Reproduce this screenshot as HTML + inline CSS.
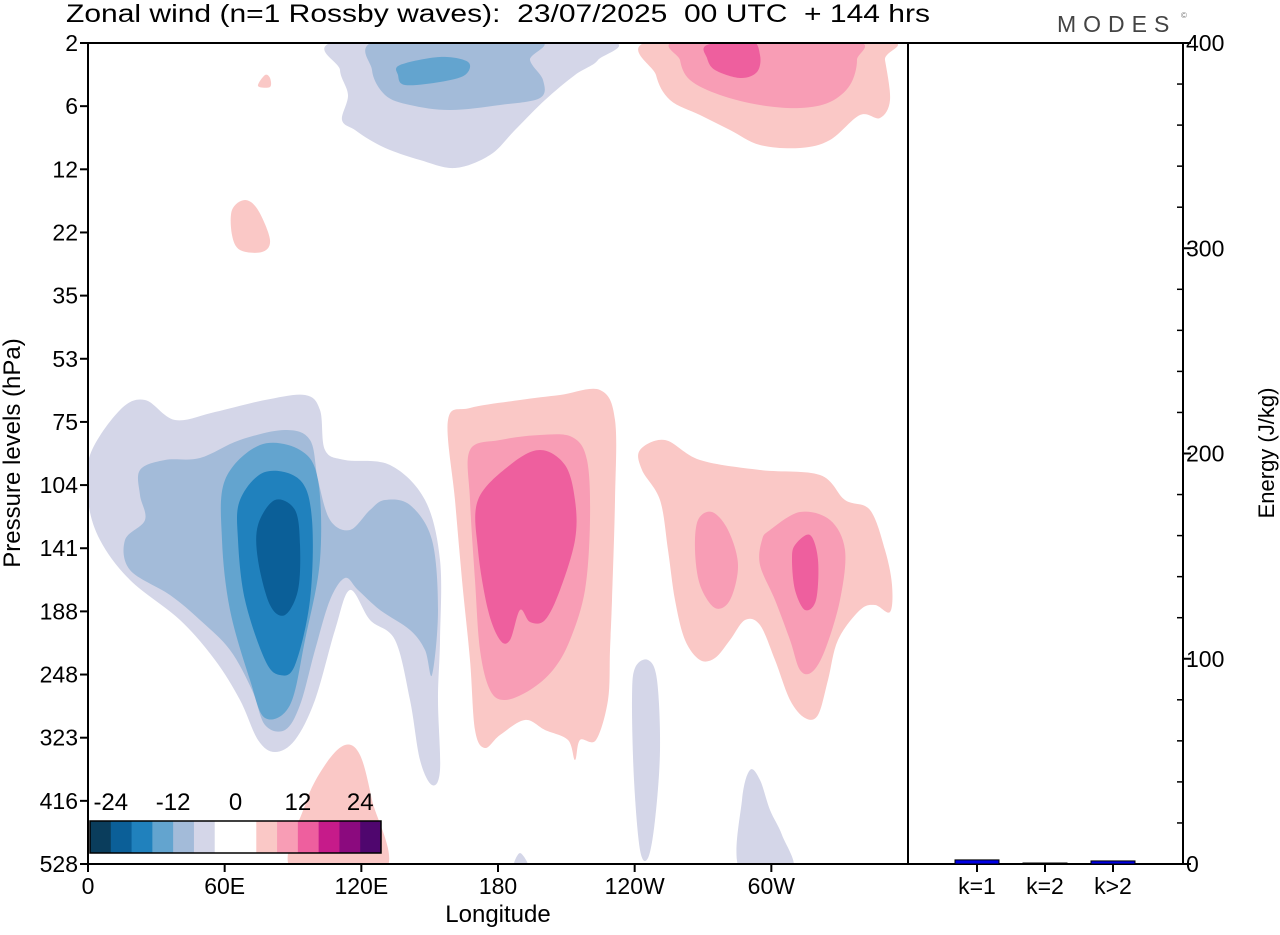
<!DOCTYPE html>
<html><head><meta charset="utf-8"><style>
body{margin:0;background:#fff;}
svg text{font-family:"Liberation Sans",sans-serif;white-space:pre;}
</style></head><body>
<svg id="chart" width="1280" height="930">
<g id="contours"></g>
<g id="frame"></g>
<g id="bars"></g>
<text x="66" y="22" font-size="25" textLength="864" lengthAdjust="spacingAndGlyphs" xml:space="preserve">Zonal wind (n=1 Rossby waves):  23/07/2025  00 UTC  + 144 hrs</text>
<text x="1057" y="32" font-size="23" fill="#444" letter-spacing="7">MODES</text>
<text x="1181" y="18" font-size="8" fill="#777">©</text>
<text x="498" y="922" font-size="24" text-anchor="middle">Longitude</text>
<text transform="translate(20,453) rotate(-90)" font-size="24" text-anchor="middle">Pressure levels (hPa)</text>
<text transform="translate(1274,453) rotate(-90)" font-size="22" text-anchor="middle">Energy (J/kg)</text>
<g id="cbar"></g>
</svg>
<script>
const NS="http://www.w3.org/2000/svg";
const pLevels=["2","6","12","22","35","53","75","104","141","188","248","323","416","528"];
const lonLabels=["0","60E","120E","180","120W","60W"];
const barCats=["k=1","k=2","k>2"];
const barVals=[2,0.3,1.5];
const eTicks=[0,100,200,300,400];
const cbarLabels=["-24","-12","0","12","24"];
const cbarColors=["#0a3d5c","#0b5f98","#2081bd","#63a4cf","#a3bbd9","#d4d6e8","#ffffff","#ffffff","#fac8c6","#f89db5","#ee5f9e","#c61b8a","#8b0a7e","#4f066e"];
const X0=88,X1=908,Y0=43,Y1=864;
const lonX=l=>X0+l*(X1-X0)/360;
const levY=i=>Y0+i*(Y1-Y0)/(pLevels.length-1);
const eY=v=>Y1-v*(Y1-Y0)/400;
function mk(tag,attrs,parent){const e=document.createElementNS(NS,tag);for(const k in attrs)e.setAttribute(k,attrs[k]);parent.appendChild(e);return e;}
function smooth(p){let d="M"+p[0][0]+","+p[0][1];const n=p.length;
for(let i=0;i<n;i++){const a=p[(i-1+n)%n],b=p[i],c=p[(i+1)%n],e=p[(i+2)%n];
d+=`C${b[0]+(c[0]-a[0])/6},${b[1]+(c[1]-a[1])/6} ${c[0]-(e[0]-b[0])/6},${c[1]-(e[1]-b[1])/6} ${c[0]},${c[1]}`;}return d+"Z";}
const shapes=[
["#d4d6e8",[[345,40],[600,40],[598,60],[575,75],[545,100],[515,130],[490,155],[455,168],[420,160],[390,150],[370,140],[355,130],[342,120],[348,95],[340,70]]],
["#a3bbd9",[[380,40],[535,40],[530,60],[543,80],[540,98],[500,105],[450,110],[410,105],[385,95],[372,70]]],
["#63a4cf",[[400,65],[440,57],[468,62],[465,75],[440,82],[405,85],[398,75]]],
["#fac8c6",[[655,40],[880,40],[885,60],[890,100],[880,118],[860,115],[830,140],[800,148],[760,145],[730,130],[700,115],[670,100],[656,75]]],
["#f89db5",[[682,40],[850,40],[857,60],[850,85],[830,102],[800,108],[760,105],[720,95],[690,80],[680,60]]],
["#ee5f9e",[[707,45],[750,40],[760,55],[757,72],[740,78],[715,70],[707,58]]],
["#fac8c6",[[258,86],[265,75],[270,78],[270,87]]],
["#fac8c6",[[232,210],[245,200],[258,210],[270,240],[262,252],[240,250],[232,235]]],
["#d4d6e8",[[90,455],[120,410],[145,400],[175,420],[215,412],[265,400],[305,395],[320,410],[325,450],[345,460],[390,465],[425,500],[440,560],[440,640],[438,700],[440,770],[432,785],[420,760],[410,700],[395,640],[370,620],[350,590],[335,630],[315,700],[295,740],[275,752],[258,740],[240,700],[215,660],[180,620],[130,580],[100,540],[88,500]]],
["#a3bbd9",[[140,470],[165,460],[200,458],[240,440],[285,430],[310,440],[318,480],[330,520],[350,530],[370,510],[385,500],[410,505],[432,540],[438,610],[432,675],[425,650],[410,630],[380,610],[358,590],[345,578],[330,600],[315,650],[300,705],[285,730],[265,725],[252,690],[230,650],[200,620],[170,595],[130,570],[125,540],[145,520],[140,495]]],
["#63a4cf",[[225,480],[260,445],[300,450],[318,480],[320,560],[305,640],[290,705],[265,718],[250,680],[230,610],[222,540]]],
["#2081bd",[[240,500],[265,472],[300,480],[312,520],[310,600],[295,665],[280,675],[265,660],[245,600],[238,540]]],
["#0b5f98",[[258,525],[275,500],[295,510],[300,545],[298,590],[285,615],[270,605],[258,560]]],
["#fac8c6",[[448,420],[470,408],[520,400],[560,395],[600,390],[615,420],[615,500],[612,600],[610,650],[608,700],[596,740],[580,740],[575,760],[568,740],[545,730],[525,720],[500,735],[485,748],[475,730],[470,660],[462,580],[455,500]]],
["#f89db5",[[470,450],[500,440],[540,435],[572,437],[587,460],[590,520],[585,590],[570,640],[553,670],[530,690],[505,700],[490,690],[480,650],[475,580],[470,500]]],
["#ee5f9e",[[478,500],[510,465],[540,450],[565,465],[575,500],[575,540],[560,590],[545,620],[530,622],[520,610],[510,640],[500,640],[488,610],[478,550]]],
["#fac8c6",[[640,450],[665,440],[700,460],[760,470],[820,475],[845,500],[870,510],[885,550],[892,585],[890,612],[875,605],[860,610],[838,640],[828,680],[818,715],[805,718],[790,700],[775,660],[760,625],[745,620],[730,640],[715,658],[700,660],[685,640],[675,600],[668,550],[660,500],[642,470]]],
["#f89db5",[[698,520],[712,512],[728,530],[738,565],[730,600],[715,608],[700,585],[695,550]]],
["#f89db5",[[770,530],[800,512],[830,520],[845,550],[840,600],[825,650],[812,672],[800,670],[790,640],[775,600],[760,565],[762,540]]],
["#ee5f9e",[[795,545],[810,535],[818,560],[816,600],[805,610],[795,590],[792,560]]],
["#d4d6e8",[[635,668],[648,660],[657,680],[660,750],[655,820],[648,858],[640,850],[634,780],[632,700]]],
["#d4d6e8",[[740,870],[742,800],[750,770],[760,780],[770,810],[782,835],[792,870]]],
["#d4d6e8",[[514,866],[520,853],[528,866]]],
["#fac8c6",[[292,870],[305,805],[325,765],[345,745],[360,755],[372,800],[385,870]]]
];
const cg=document.getElementById("contours");
const clip=mk("clipPath",{id:"pc"},mk("defs",{},cg));mk("rect",{x:X0,y:Y0,width:X1-X0,height:Y1-Y0},clip);
const sg=mk("g",{"clip-path":"url(#pc)"},cg);
shapes.forEach(s=>{const p=mk("path",{d:smooth(s[1]),fill:s[0]},sg);

});
const fr=document.getElementById("frame");
mk("rect",{x:X0,y:Y0,width:1183-X0,height:Y1-Y0,fill:"none",stroke:"#000","stroke-width":2},fr);
mk("line",{x1:X1,y1:Y0,x2:X1,y2:Y1,stroke:"#000","stroke-width":2},fr);
pLevels.forEach((l,i)=>{const y=levY(i);mk("line",{x1:X0-8,y1:y,x2:X0,y2:y,stroke:"#000","stroke-width":2},fr);
const t=mk("text",{x:X0-10,y:y+8,"font-size":23,"text-anchor":"end"},fr);t.textContent=l;

});
lonLabels.forEach((l,i)=>{const x=lonX(i*60);mk("line",{x1:x,y1:Y1,x2:x,y2:Y1+8,stroke:"#000","stroke-width":2},fr);
const t=mk("text",{x:x,y:Y1+30,"font-size":23,"text-anchor":"middle"},fr);t.textContent=l;

});
for(let v=0;v<=400;v+=20){const y=eY(v);
if(v%100===0)mk("line",{x1:1183,y1:y,x2:1191,y2:y,stroke:"#000","stroke-width":2},fr);
else mk("line",{x1:1177,y1:y,x2:1183,y2:y,stroke:"#000","stroke-width":1.5},fr);}
eTicks.forEach(v=>{const t=mk("text",{x:1186,y:eY(v)+8,"font-size":23},fr);t.textContent=v;

});
const bg=document.getElementById("bars");
barCats.forEach((c,i)=>{const cx=977+i*68;
const h=Math.max(1,Y1-eY(barVals[i]));
const r=mk("rect",{x:cx-22,y:Y1-h,width:44,height:h,fill:"#0000e6",stroke:"#000","stroke-width":1},bg);


mk("line",{x1:cx,y1:Y1,x2:cx,y2:Y1+8,stroke:"#000","stroke-width":2},bg);
const t=mk("text",{x:cx,y:Y1+30,"font-size":23,"text-anchor":"middle"},bg);t.textContent=c;

});
const cb=document.getElementById("cbar");
const cw=291/cbarColors.length;
cbarColors.forEach((c,i)=>{const r=mk("rect",{x:90+i*cw,y:821,width:cw+0.5,height:32,fill:c},cb);

});
mk("rect",{x:90,y:821,width:291,height:32,fill:"none",stroke:"#000","stroke-width":1.5},cb);
cbarLabels.forEach((l,i)=>{const t=mk("text",{x:90+(1+3*i)*cw,y:810,"font-size":24,"text-anchor":"middle"},cb);t.textContent=l;

});
</script>
</body></html>
